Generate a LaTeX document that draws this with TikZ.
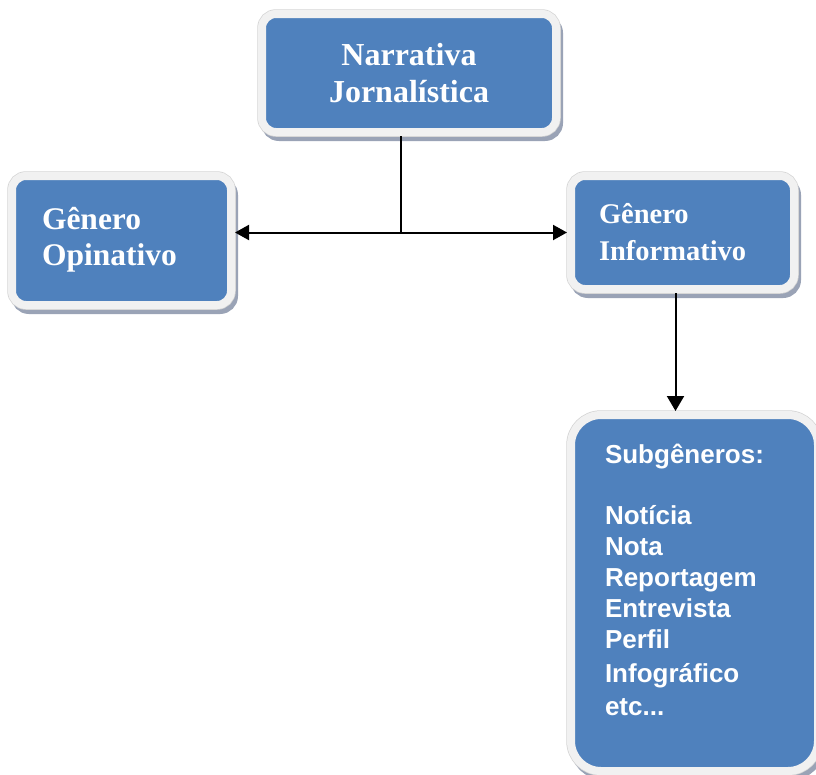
\documentclass[tikz,border=0pt]{standalone}
\usepackage{fontspec}
\setmainfont{Liberation Serif}
\newfontfamily\arialfont{Liberation Sans}
\usepackage{tikz}
\usetikzlibrary{arrows.meta}

\definecolor{boxblue}{HTML}{4F81BD}
\definecolor{framegray}{HTML}{F1F1F1}
\definecolor{edgegray}{HTML}{D4D4D4}
\definecolor{shadegray}{HTML}{9AA3B6}

\tikzset{
  genbox/.style={rounded corners=14pt, fill=boxblue, draw=framegray, line width=8pt,
    text=white, outer sep=4pt,
    preaction={draw=shadegray, fill=shadegray, line width=8pt,
      transform canvas={xshift=3pt, yshift=-5pt}},
    preaction={draw=edgegray, line width=9.5pt}},
  conn/.style={line width=2pt, >={Triangle[length=14pt, width=15pt]}}
}

\begin{document}
\begin{tikzpicture}[x=1pt, y=-1pt]
\useasboundingbox (0,0) rectangle (816,774);

\node[genbox, align=center, minimum width=294pt, minimum height=118pt,
  font=\bfseries\fontsize{32}{37}\selectfont] (narr) at (409,73) {Narrativa\\Jornalística};
\node[genbox, align=left, text width=159pt, inner xsep=30pt, minimum height=129pt,
  font=\bfseries\fontsize{31.5}{36}\selectfont] (opin) at (121.5,240.5) {Gênero\\Opinativo\rule[-8pt]{0pt}{8pt}};
\node[genbox, align=left, text width=167pt, inner xsep=28pt, minimum height=113pt,
  font=\bfseries\fontsize{28.5}{37}\selectfont] (info) at (682.5,232.5) {Gênero\\Informativo};
\node[genbox, rounded corners=30pt, align=left, text width=179pt, inner xsep=34pt,
  minimum height=356pt, font=\arialfont\bfseries\fontsize{26}{31}\selectfont]
  (sub) at (694.5,593) {Subgêneros:\\[30pt]Notícia\\Nota\\Reportagem\\Entrevista\\Perfil\\[3pt]Infográfico\\[2pt]etc...\rule[-26pt]{0pt}{26pt}};

\draw[conn] ([xshift=-8pt]narr.south) -- ([xshift=-8pt]narr.south |- info.west);
\draw[conn, <->] (opin.east |- info.west) -- (info.west);
\draw[conn, ->, >={Triangle[length=15pt, width=17pt]}] ([xshift=-7pt]info.south) -- ([xshift=-7pt]info.south |- sub.north);
%
\end{tikzpicture}
\end{document}
